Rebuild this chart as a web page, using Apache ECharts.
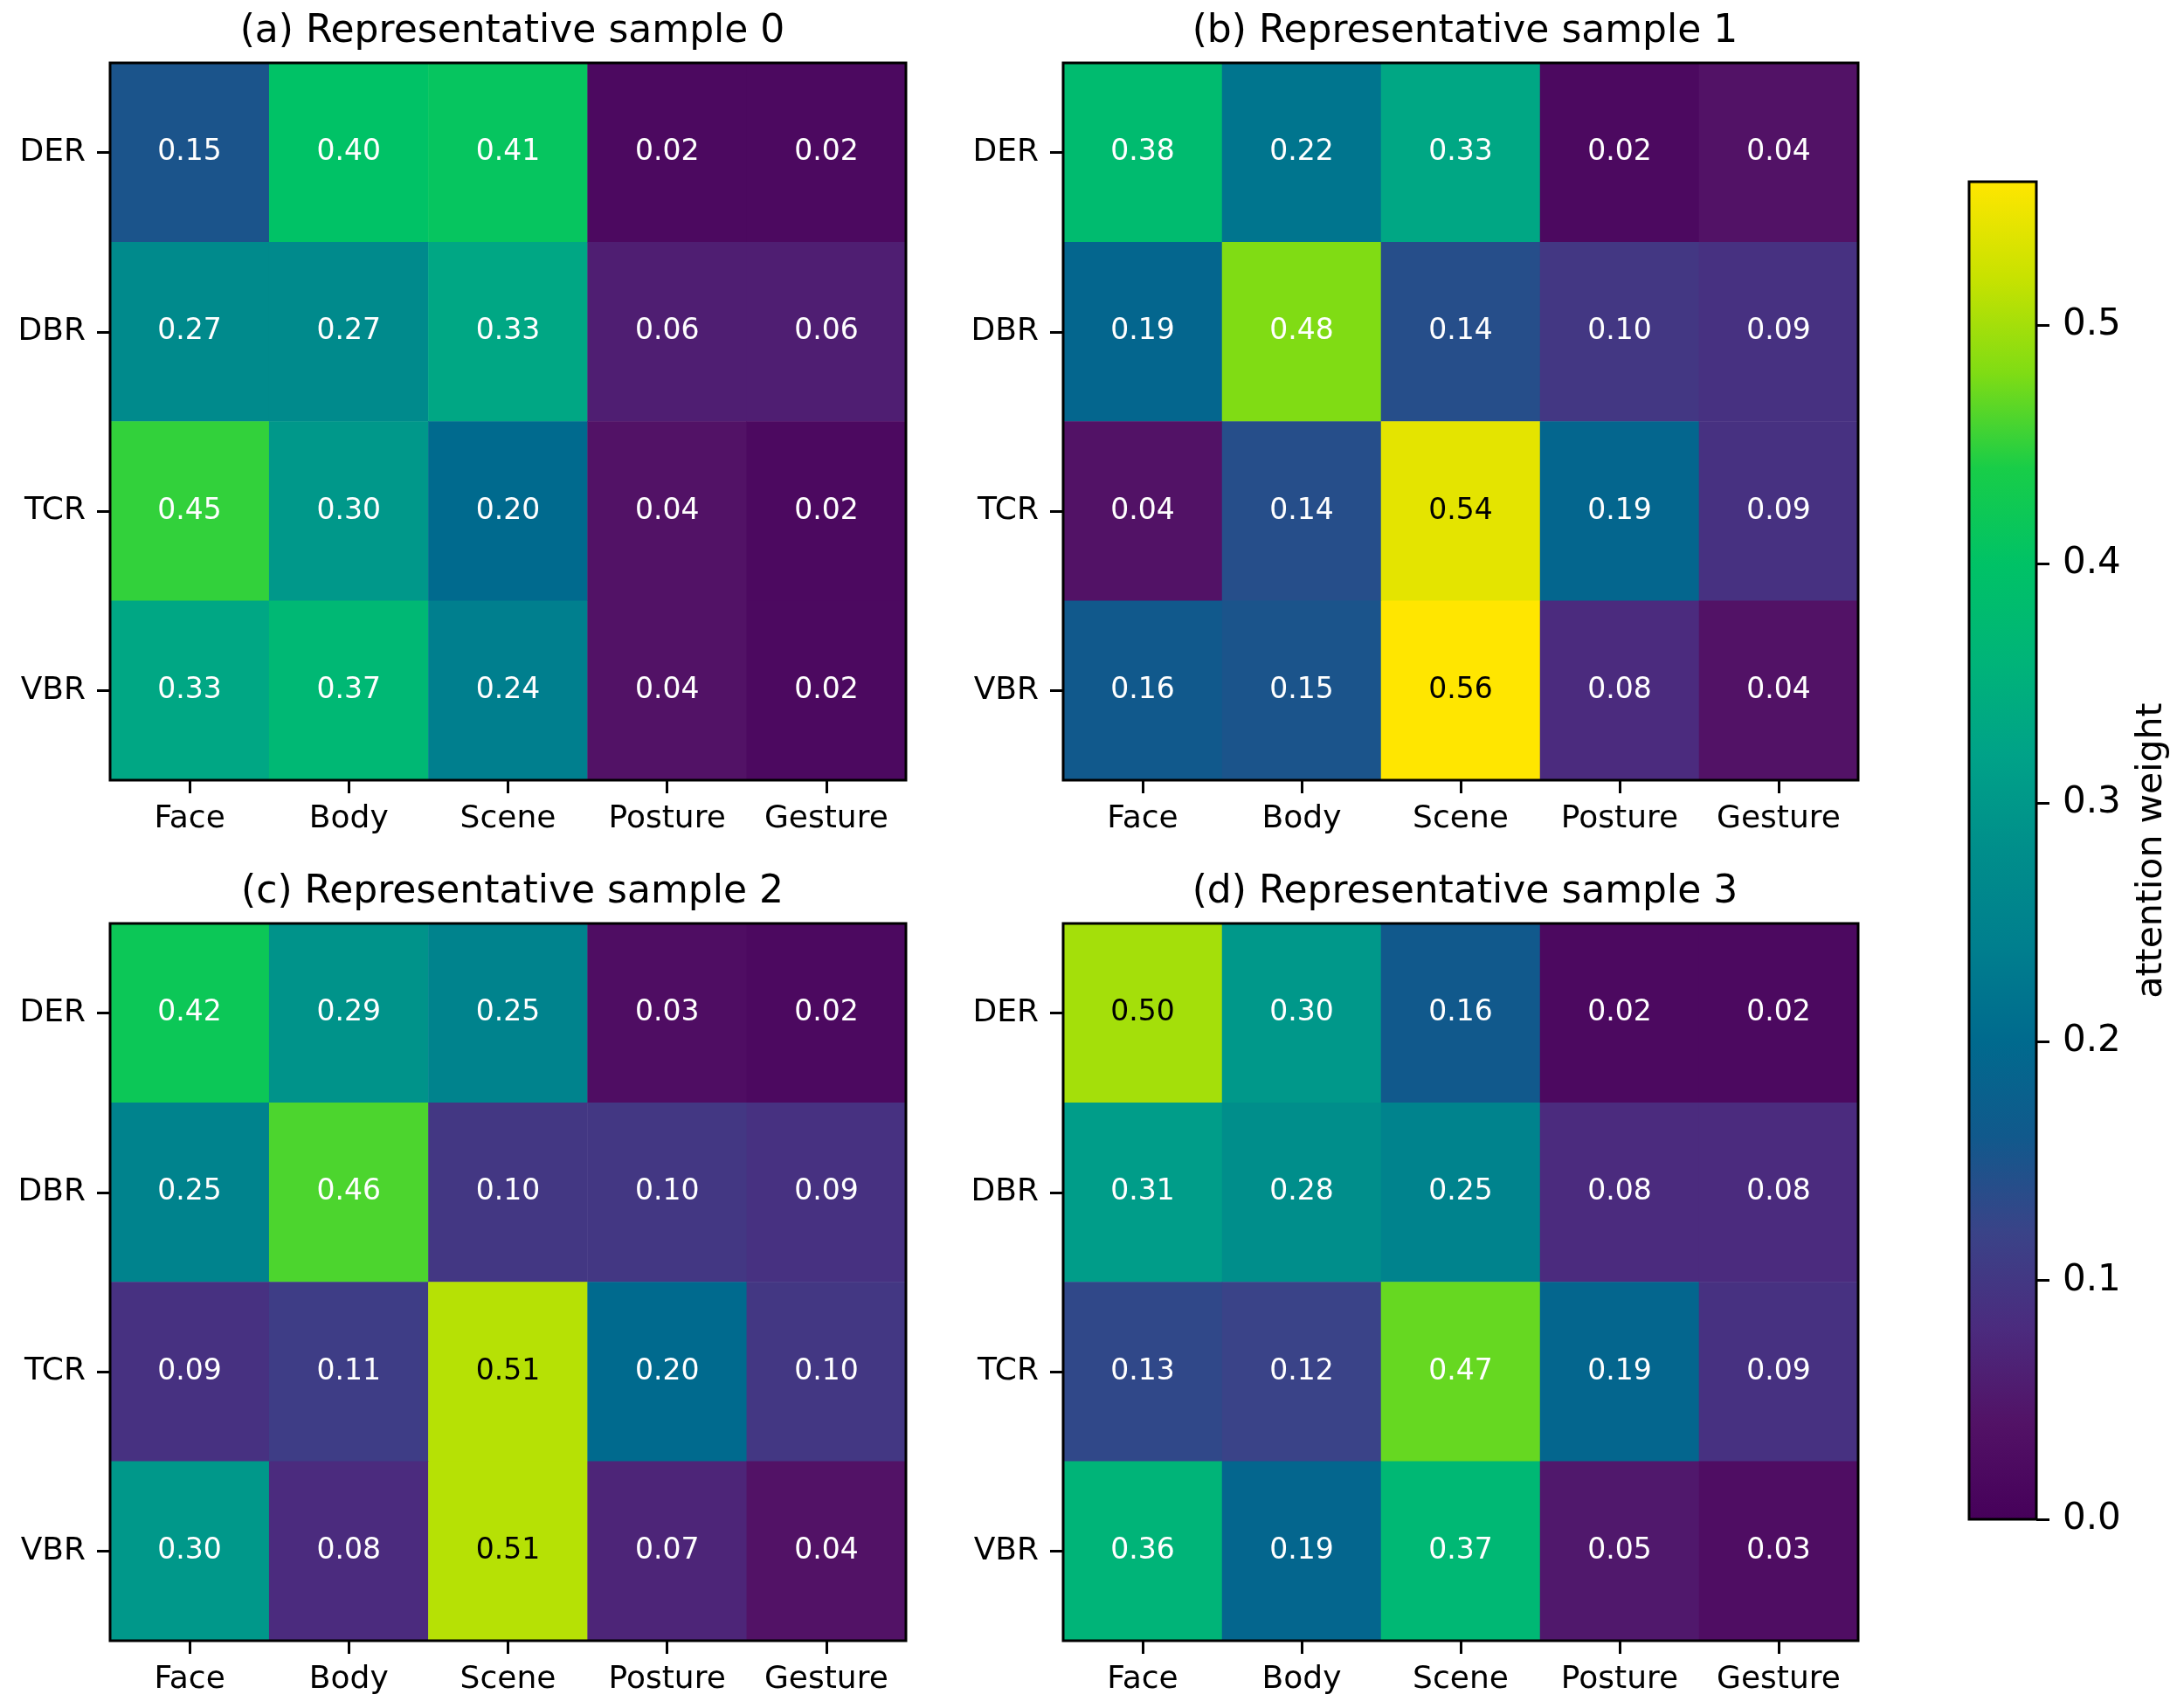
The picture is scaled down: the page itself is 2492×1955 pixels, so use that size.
<!DOCTYPE html>
<html>
<head>
<meta charset="utf-8">
<script src="https://cdn.jsdelivr.net/npm/echarts@6/dist/echarts.min.js"></script>
<style>
  html, body { margin: 0; padding: 0; background: #fff; }
  #chart { width: 2492px; height: 1955px; }
</style>
</head>
<body>
<div id="chart"></div>
<script>
var xCats = ['Face', 'Body', 'Scene', 'Posture', 'Gesture'];
var yCats = ['DER', 'DBR', 'TCR', 'VBR'];
var titles = ['(a) Representative sample 0', '(b) Representative sample 1',
  '(c) Representative sample 2', '(d) Representative sample 3'];

// rows: DER, DBR, TCR, VBR
var sample0 = [[0.15, 0.40, 0.41, 0.02, 0.02], [0.27, 0.27, 0.33, 0.06, 0.06],
  [0.45, 0.30, 0.20, 0.04, 0.02], [0.33, 0.37, 0.24, 0.04, 0.02]];
var sample1 = [[0.38, 0.22, 0.33, 0.02, 0.04], [0.19, 0.48, 0.14, 0.10, 0.09],
  [0.04, 0.14, 0.54, 0.19, 0.09], [0.16, 0.15, 0.56, 0.08, 0.04]];
var sample2 = [[0.42, 0.29, 0.25, 0.03, 0.02], [0.25, 0.46, 0.10, 0.10, 0.09],
  [0.09, 0.11, 0.51, 0.20, 0.10], [0.30, 0.08, 0.51, 0.07, 0.04]];
var sample3 = [[0.50, 0.30, 0.16, 0.02, 0.02], [0.31, 0.28, 0.25, 0.08, 0.08],
  [0.13, 0.12, 0.47, 0.19, 0.09], [0.36, 0.19, 0.37, 0.05, 0.03]];

var cbMin = 0, cbMax = 0.56;
var cbTicks = [0, 0.1, 0.2, 0.3, 0.4, 0.5];
// colour ramp sampled from the reference colorbar, evenly spaced min..max
var ramp = ['#46005a', '#521266', '#4b2b7e', '#3a4388', '#11598c', '#006a8e', '#007f8e',
  '#008e8b', '#00a288', '#00b478', '#00c266', '#18cd48', '#80dc14', '#c8e200', '#ffe600'];

var FONT = 'DejaVu Sans';
var samples = [sample0, sample1, sample2, sample3];
var grids = [
  {left: 126, top: 72, width: 911, height: 821},
  {left: 1217, top: 72, width: 910, height: 821},
  {left: 126, top: 1057, width: 911, height: 821},
  {left: 1217, top: 1057, width: 910, height: 821}
];
var cbGrid = {left: 2254, top: 208, width: 77, height: 1531};

function cellData(mat) {
  var out = [];
  for (var r = 0; r < mat.length; r++) {
    for (var c = 0; c < mat[r].length; c++) {
      var v = mat[r][c];
      out.push({value: [c, r, v], label: {color: v >= 0.5 ? '#000' : '#fff'}});
    }
  }
  return out;
}

var option = {
  backgroundColor: '#fff',
  animation: false,
  title: [],
  grid: [],
  xAxis: [],
  yAxis: [],
  series: [],
  visualMap: {
    show: false, min: cbMin, max: cbMax, seriesIndex: [0, 1, 2, 3],
    inRange: {color: ramp}
  }
};

for (var i = 0; i < 4; i++) {
  var g = grids[i];
  option.grid.push({left: g.left, top: g.top, width: g.width, height: g.height,
    show: true, z: 10, backgroundColor: 'transparent', borderColor: '#000', borderWidth: 3});
  option.title.push({text: titles[i], left: g.left + g.width / 2, top: g.top - 62,
    textAlign: 'center',
    textStyle: {fontFamily: FONT, fontSize: 44, fontWeight: 'normal', color: '#000'}});
  option.xAxis.push({type: 'category', data: xCats, gridIndex: i,
    axisLine: {show: false},
    axisTick: {show: true, interval: 0, alignWithLabel: true, length: 15,
      lineStyle: {color: '#000', width: 3}},
    axisLabel: {interval: 0, fontFamily: FONT, fontSize: 36, color: '#000', margin: 27},
    splitLine: {show: false}});
  option.yAxis.push({type: 'category', data: yCats, gridIndex: i, inverse: true,
    axisLine: {show: false},
    axisTick: {show: true, interval: 0, alignWithLabel: true, length: 15,
      lineStyle: {color: '#000', width: 3}},
    axisLabel: {interval: 0, fontFamily: FONT, fontSize: 36, color: '#000', margin: 28,
      padding: [16, 0, 0, 0]},
    splitLine: {show: false}});
  option.series.push({type: 'heatmap', xAxisIndex: i, yAxisIndex: i,
    data: cellData(samples[i]),
    label: {show: true, fontFamily: FONT, fontSize: 33, padding: [6, 0, 0, 0],
      formatter: function (p) { return p.value[2].toFixed(2); }},
    itemStyle: {borderWidth: 0},
    emphasis: {disabled: true}});
}

// colorbar
var stops = ramp.map(function (c, k) { return {offset: k / (ramp.length - 1), color: c}; });
option.grid.push({left: cbGrid.left, top: cbGrid.top, width: cbGrid.width, height: cbGrid.height,
  show: true, z: 10, backgroundColor: 'transparent', borderColor: '#000', borderWidth: 3});
option.xAxis.push({type: 'category', data: [''], gridIndex: 4, show: false});
option.yAxis.push({type: 'value', gridIndex: 4, min: cbMin, max: cbMax, position: 'right',
  name: 'attention weight', nameLocation: 'middle', nameGap: 112, nameRotate: 90,
  nameTextStyle: {fontFamily: FONT, fontSize: 41, color: '#000'},
  axisLine: {show: false},
  axisTick: {show: true, length: 15, lineStyle: {color: '#000', width: 3}, customValues: cbTicks},
  axisLabel: {fontFamily: FONT, fontSize: 42, color: '#000', margin: 30, customValues: cbTicks,
    padding: [8, 0, 0, 0],
    formatter: function (v) { return v.toFixed(1); }},
  splitLine: {show: false}});
option.series.push({type: 'bar', xAxisIndex: 4, yAxisIndex: 4, data: [cbMax],
  barWidth: '100%', silent: true,
  itemStyle: {color: new echarts.graphic.LinearGradient(0, 1, 0, 0, stops)}});

var chart = echarts.init(document.getElementById('chart'));
chart.setOption(option);
</script>
</body>
</html>
